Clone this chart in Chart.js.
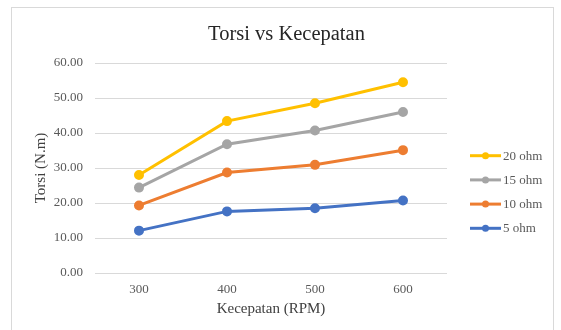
<!DOCTYPE html>
<html>
<head>
<meta charset="utf-8">
<script src="https://cdn.jsdelivr.net/npm/chart.js@4.4.1/dist/chart.umd.min.js"></script>
<style>
  html, body { margin: 0; padding: 0; background: #ffffff; }
  #wrap { width: 561px; height: 330px; position: relative; }
</style>
</head>
<body>
<div id="wrap"><canvas id="c" width="561" height="330"></canvas></div>
<script>
// Speed categories (RPM)
const speeds = ['300', '400', '500', '600'];
// Torque (N.m) per load resistance
const torque5 = [12.1, 17.6, 18.5, 20.7];
const torque10 = [19.3, 28.7, 30.9, 35.1];
const torque15 = [24.4, 36.8, 40.7, 46.0];
const torque20 = [28.0, 43.4, 48.5, 54.5];
const seriesNames = ['5 ohm', '10 ohm', '15 ohm', '20 ohm'];
const seriesColors = ['#4472C4', '#ED7D31', '#A5A5A5', '#FFC000'];
const seriesValues = [torque5, torque10, torque15, torque20];
const chartTitle = 'Torsi vs Kecepatan';

const SERIF = "'Liberation Serif', 'Times New Roman', serif";

const datasets = seriesValues.map((vals, i) => ({
  label: seriesNames[i],
  data: vals,
  borderColor: seriesColors[i],
  backgroundColor: seriesColors[i],
  pointBackgroundColor: seriesColors[i],
  pointBorderColor: seriesColors[i],
  borderWidth: 3,
  pointRadius: 3.5,
  pointHoverRadius: 3.5,
  tension: 0,
  fill: false
}));

// Light frame around the whole chart, plus the title centred on the frame
const framePlugin = {
  id: 'frame',
  beforeDraw(chart) {
    const ctx = chart.ctx;
    ctx.save();
    ctx.fillStyle = '#ffffff';
    ctx.fillRect(0, 0, chart.width, chart.height);
    ctx.strokeStyle = '#d9d9d9';
    ctx.lineWidth = 1;
    ctx.strokeRect(11.5, 7.5, 542, 400);
    ctx.fillStyle = '#262626';
    ctx.font = '20.5px ' + SERIF;
    ctx.textAlign = 'center';
    ctx.textBaseline = 'alphabetic';
    ctx.fillText(chartTitle, 286.5, 40);
    ctx.restore();
  }
};

// Legend on the right: line sample with a dot, listed from last series to first
const sideLegend = {
  id: 'sideLegend',
  afterDraw(chart) {
    const ctx = chart.ctx;
    const ds = chart.data.datasets;
    ctx.save();
    ctx.font = '13px ' + SERIF;
    ctx.textBaseline = 'middle';
    ctx.textAlign = 'left';
    const x0 = 470, x1 = 501, startY = 155.7, step = 24.2;
    for (let k = 0; k < ds.length; k++) {
      const d = ds[ds.length - 1 - k];
      const y = startY + k * step;
      ctx.strokeStyle = d.borderColor;
      ctx.lineWidth = 3;
      ctx.beginPath();
      ctx.moveTo(x0, y);
      ctx.lineTo(x1, y);
      ctx.stroke();
      ctx.fillStyle = d.pointBackgroundColor;
      ctx.beginPath();
      ctx.arc((x0 + x1) / 2, y, 3.5, 0, Math.PI * 2);
      ctx.fill();
      ctx.fillStyle = '#595959';
      ctx.fillText(d.label, x1 + 2, y + 0.5);
    }
    ctx.restore();
  }
};

new Chart(document.getElementById('c'), {
  type: 'line',
  data: { labels: speeds, datasets },
  plugins: [framePlugin, sideLegend],
  options: {
    responsive: false,
    animation: false,
    events: [],
    layout: { padding: { top: 63, left: 12, right: 114, bottom: 8 } },
    plugins: {
      legend: { display: false },
      tooltip: { enabled: false },
      title: { display: false }
    },
    scales: {
      x: {
        offset: true,
        grid: { display: false, drawTicks: false },
        border: { display: false },
        ticks: { color: '#595959', font: { family: SERIF, size: 13 }, padding: 9 },
        title: {
          display: true,
          text: 'Kecepatan (RPM)',
          color: '#404040',
          font: { family: SERIF, size: 15 },
          padding: { top: 0, bottom: 4 }
        },
        afterFit(scale) { scale.height = 49; }
      },
      y: {
        min: 0,
        max: 60,
        grid: { color: '#d9d9d9', lineWidth: 1, drawTicks: false },
        border: { display: false },
        ticks: {
          stepSize: 10,
          color: '#595959',
          font: { family: SERIF, size: 13 },
          padding: 12,
          callback: v => Number(v).toFixed(2)
        },
        title: {
          display: true,
          text: 'Torsi (N.m)',
          color: '#404040',
          font: { family: SERIF, size: 15 },
          padding: { top: 20, bottom: 0 }
        },
        afterFit(scale) { scale.width = 83; }
      }
    }
  }
});
</script>
</body>
</html>
